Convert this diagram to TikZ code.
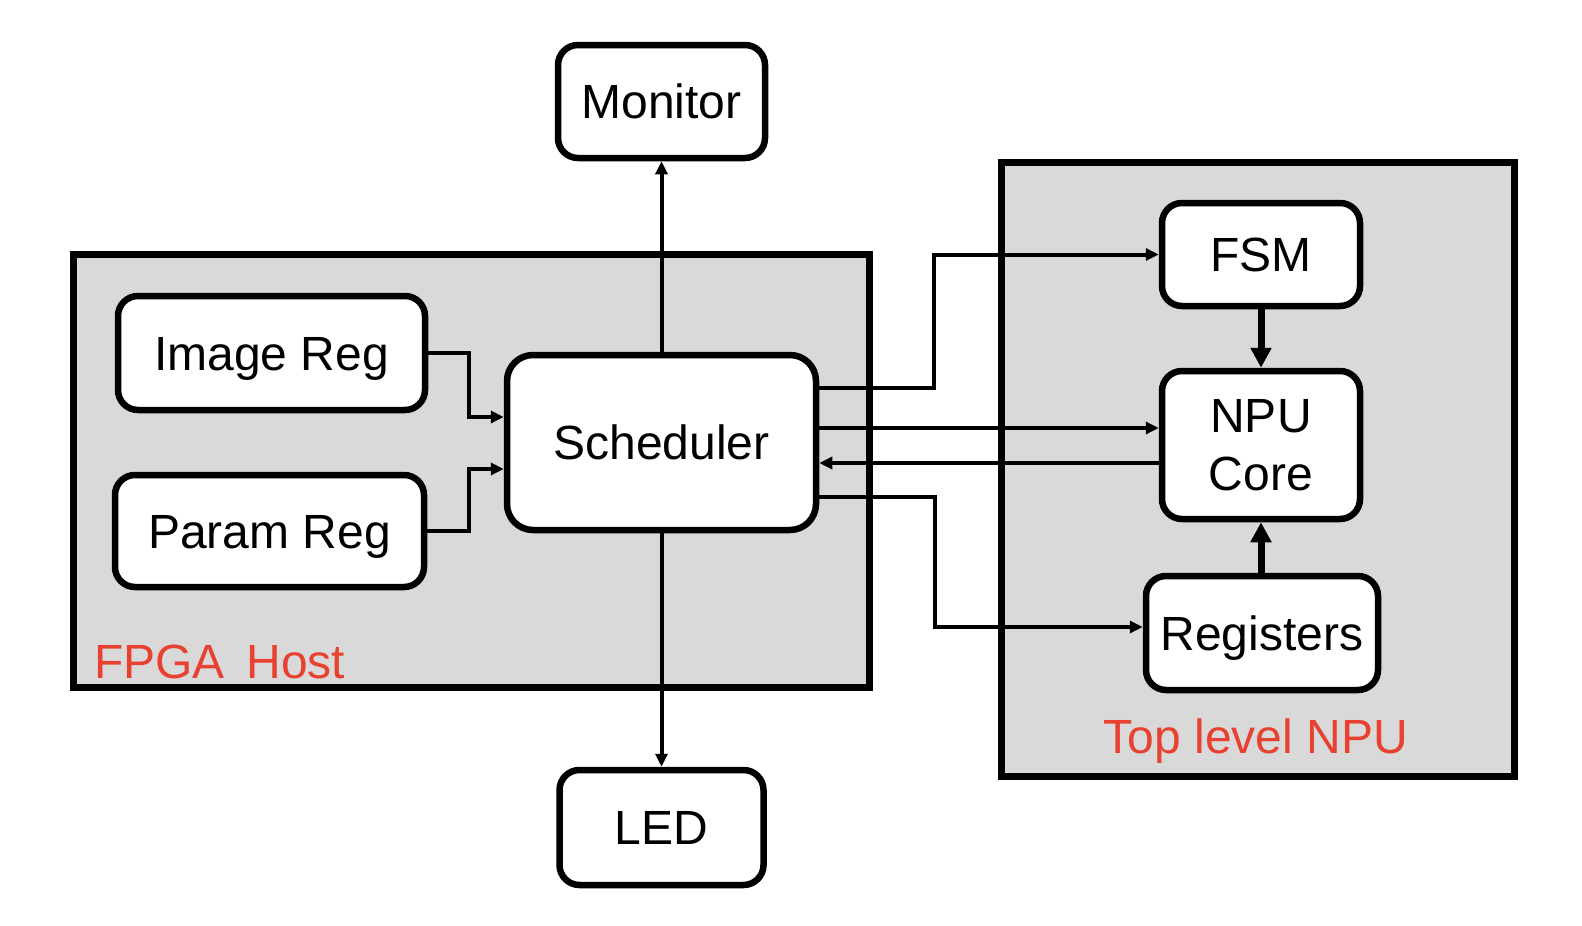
\documentclass[tikz,border=0pt]{standalone}
\usepackage{fontspec}
\setmainfont{Liberation Sans}
\usetikzlibrary{arrows.meta,calc}
\definecolor{boxgray}{RGB}{217,217,217}
\definecolor{labred}{RGB}{232,65,48}
\begin{document}
\begin{tikzpicture}[x=1pt,y=-1pt,
  blk/.style={draw, line width=6.5pt, fill=white, rounded corners=20pt, inner sep=0pt,
    font=\fontsize{48}{58}\selectfont, text height=34pt, text depth=0pt},
  cont/.style={draw, line width=7pt, fill=boxgray, inner sep=0pt},
  lab/.style={text=labred, font=\fontsize{48}{56}\selectfont, inner sep=0pt},
  conn/.style={line width=4pt, -{Triangle[length=13pt,width=12pt]}},
  bold/.style={line width=7pt, -{Triangle[length=20pt,width=20pt]}}
]
\useasboundingbox (0,0) rectangle (1582,926);
% containers
\node[cont, minimum width=796pt, minimum height=433pt] (fpga) at (471,470.5) {};
\node[cont, minimum width=513pt, minimum height=614pt] (npu) at (1257.5,469) {};
% blocks
\node[blk, minimum width=207pt, minimum height=113pt] (mon) at (661.5,101.5) {Monitor};
\node[blk, minimum width=307pt, minimum height=114pt] (img) at (271.5,353) {Image Reg};
\node[blk, minimum width=309pt, minimum height=112pt] (par) at (269.5,531) {Param Reg};
\node[blk, minimum width=309pt, minimum height=175pt, rounded corners=26pt] (sch) at (661.5,442.5) {Scheduler};
\node[blk, minimum width=204pt, minimum height=115pt] (led) at (661.5,827.5) {LED};
\node[blk, minimum width=198pt, minimum height=103pt] (fsm) at (1261,254.5) {FSM};
\node[blk, minimum width=198pt, minimum height=148pt, align=center, text height=, text depth=] (core) at (1261,445) {NPU\\Core};
\node[blk, minimum width=232pt, minimum height=114pt] (reg) at (1262,633) {Registers};
% labels
\node[lab, anchor=base west] (fpgalab) at (94,678) {FPGA\hspace{0.45em}Host};
\node[lab, anchor=base] (npulab) at (1256,753) {Top level NPU};
% connectors
\draw[conn] (sch.north) -- (mon.south);
\draw[conn] (sch.south) -- (led.north);
\draw[conn] (img.east) -- ++(41,0) |- ([yshift=25.5pt]sch.west);
\draw[conn] (par.east) -- ++(42,0) |- ([yshift=-26.5pt]sch.west);
\draw[conn] ([yshift=54.5pt]sch.east) -- ++(115,0) |- (fsm.west);
\coordinate (s1) at ([yshift=14.5pt]sch.east);
\coordinate (s2) at ([yshift=-20.5pt]sch.east);
\draw[conn] (s1) -- (s1 -| core.west);
\draw[conn] (s2 -| core.west) -- (s2);
\draw[conn] ([yshift=-54.5pt]sch.east) -- ++(116,0) |- ([yshift=6pt]reg.west);
\draw[bold] (fsm.south) -- (core.north);
\draw[bold] (reg.north -| core.south) -- (core.south);
\end{tikzpicture}
\end{document}
